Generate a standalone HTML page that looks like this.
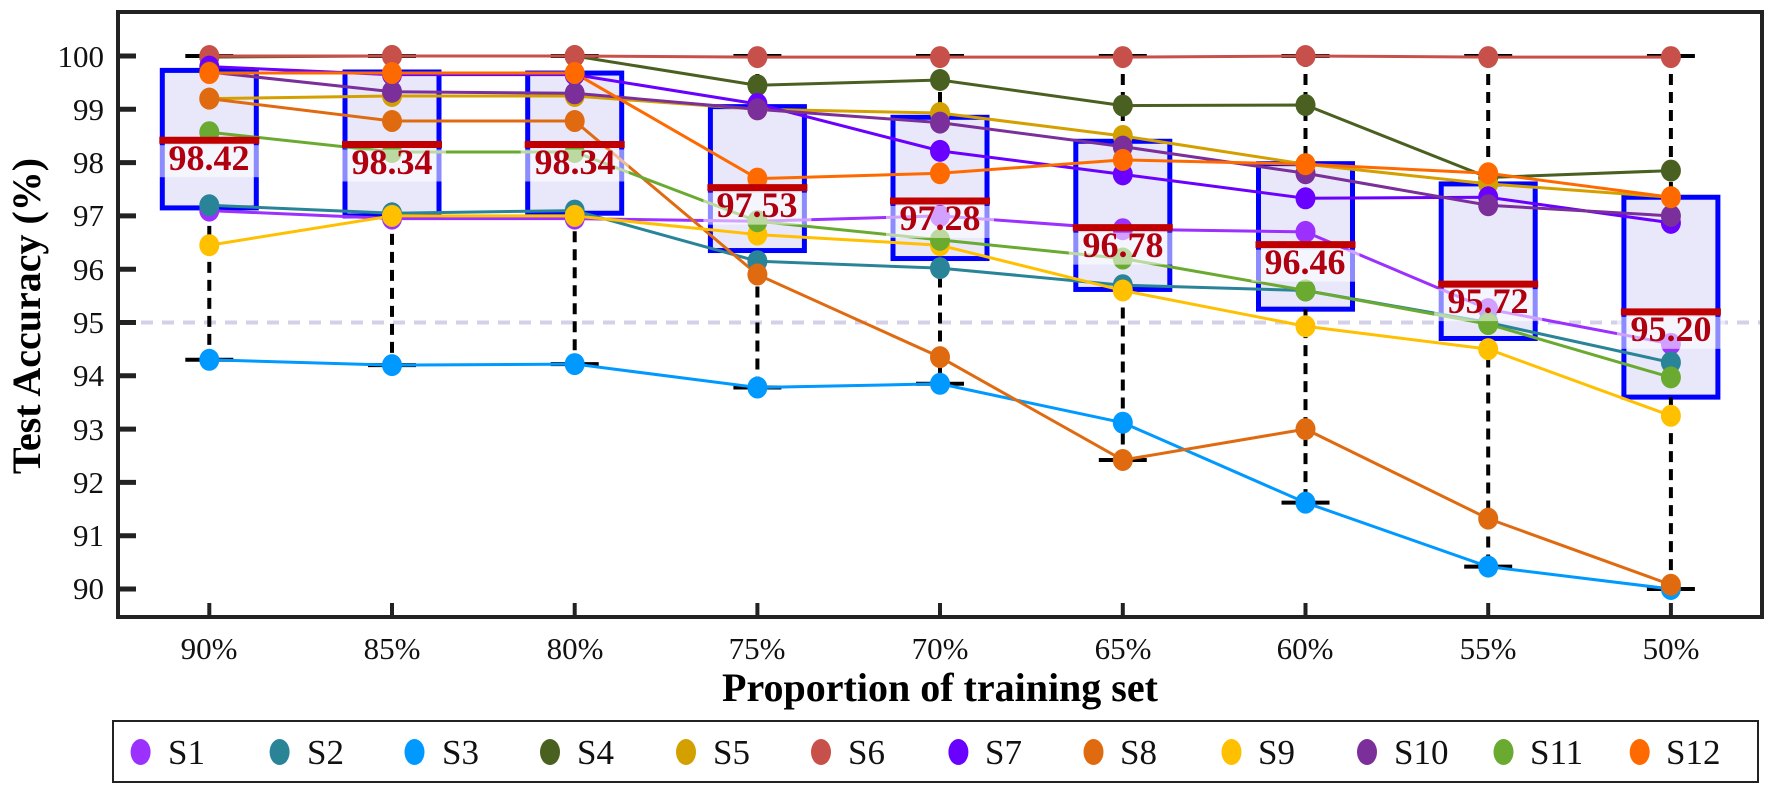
<!DOCTYPE html>
<html><head><meta charset="utf-8"><style>
html,body{margin:0;padding:0;background:#fff;}
svg{display:block;}
.tk{font-family:"Liberation Serif",serif;font-size:31px;fill:#111;}
.lg{font-family:"Liberation Serif",serif;font-size:35px;fill:#111;}
.ml{font-family:"Liberation Serif",serif;font-size:36px;font-weight:bold;fill:#b00010;}
.tt{font-family:"Liberation Serif",serif;font-size:40px;font-weight:bold;fill:#000;}
</style></head><body>
<svg id="s" width="1772" height="791" viewBox="0 0 1772 791" xmlns="http://www.w3.org/2000/svg">
<g id="under"></g>
<g id="over"></g>
<rect x="118" y="12" width="1644" height="605" fill="none" stroke="#222" stroke-width="4"/>
<g id="ticks"></g>
<g class="tk" text-anchor="end">
<text x="104" y="67">100</text><text x="104" y="120">99</text><text x="104" y="173">98</text>
<text x="104" y="226">97</text><text x="104" y="280">96</text><text x="104" y="333">95</text>
<text x="104" y="386">94</text><text x="104" y="440">93</text><text x="104" y="493">92</text>
<text x="104" y="546">91</text><text x="104" y="599">90</text>
</g>
<g class="tk" text-anchor="middle">
<text x="209" y="659">90%</text><text x="392" y="659">85%</text><text x="575" y="659">80%</text>
<text x="757" y="659">75%</text><text x="940" y="659">70%</text><text x="1123" y="659">65%</text>
<text x="1305" y="659">60%</text><text x="1488" y="659">55%</text><text x="1671" y="659">50%</text>
</g>
<text class="tt" x="940" y="701" text-anchor="middle">Proportion of training set</text>
<text class="tt" transform="translate(40,316) rotate(-90)" text-anchor="middle">Test Accuracy (%)</text>
<rect x="113" y="721" width="1645" height="61" fill="#fff" stroke="#222" stroke-width="2"/>
<g id="leg"></g>
<g class="lg">
<text x="168" y="764">S1</text><text x="307" y="764">S2</text><text x="442" y="764">S3</text>
<text x="577" y="764">S4</text><text x="713" y="764">S5</text><text x="848" y="764">S6</text>
<text x="985" y="764">S7</text><text x="1120" y="764">S8</text><text x="1258" y="764">S9</text>
<text x="1394" y="764">S10</text><text x="1530" y="764">S11</text><text x="1666" y="764">S12</text>
</g>
<g id="labs"></g>
<g class="ml" text-anchor="middle">
<text x="209" y="170">98.42</text><text x="392" y="174">98.34</text><text x="575" y="174">98.34</text>
<text x="757" y="217">97.53</text><text x="940" y="230">97.28</text><text x="1123" y="257">96.78</text>
<text x="1305" y="274">96.46</text><text x="1488" y="313">95.72</text><text x="1671" y="341">95.20</text>
</g>
</svg>
<script>
const NS="http://www.w3.org/2000/svg";
function Y(v){return 56+(100-v)*53.3;}
const X=[209.3,392,574.7,757.4,940,1122.8,1305.5,1488.2,1670.9];
function el(p,t,a){const e=document.createElementNS(NS,t);for(const k in a)e.setAttribute(k,a[k]);p.appendChild(e);return e;}
const U=document.getElementById('under'),O=document.getElementById('over'),T=document.getElementById('ticks'),L=document.getElementById('leg'),LB=document.getElementById('labs');
for(let v=90;v<=100;v++)el(T,'line',{x1:118,x2:136,y1:Y(v),y2:Y(v),stroke:'#222','stroke-width':5});
X.forEach(x=>el(T,'line',{x1:x,x2:x,y1:617,y2:603,stroke:'#222','stroke-width':4}));
el(U,'line',{x1:120,x2:1760,y1:Y(95),y2:Y(95),stroke:'#d4d0e8','stroke-width':4,'stroke-dasharray':'12 9'});
const box=[[94.3,97.15,98.42,99.73,100],[94.2,97.0,98.34,99.7,100],[94.22,97.05,98.34,99.68,100],
[93.78,96.35,97.53,99.05,100],[93.85,96.2,97.28,98.85,100],[92.42,95.62,96.78,98.4,100],
[91.62,95.25,96.46,97.98,100],[90.42,94.7,95.72,97.6,100],[90.0,93.6,95.2,97.35,100]];
box.forEach((b,i)=>{const x=X[i];
 el(U,'rect',{x:x-47,y:Y(b[3]),width:94,height:Y(b[1])-Y(b[3]),fill:'#e8e8fa',stroke:'#0000ff','stroke-width':5});
 el(U,'line',{x1:x,x2:x,y1:Y(b[1]),y2:Y(b[0]),stroke:'#000','stroke-width':4,'stroke-dasharray':'11 7'});
 el(U,'line',{x1:x,x2:x,y1:Y(b[4]),y2:Y(b[3]),stroke:'#000','stroke-width':4,'stroke-dasharray':'11 7'});
 el(U,'line',{x1:x-24,x2:x+24,y1:Y(b[0]),y2:Y(b[0]),stroke:'#000','stroke-width':4});
 el(U,'line',{x1:x-24,x2:x+24,y1:Y(b[4]),y2:Y(b[4]),stroke:'#000','stroke-width':4});
});
const S=[
['#9b30ff',[97.1,96.95,96.95,96.9,97.0,96.75,96.7,95.25,94.6]],
['#2a8497',[97.2,97.05,97.1,96.15,96.02,95.7,95.6,95.0,94.25]],
['#0099ff',[94.3,94.2,94.22,93.78,93.85,93.12,91.62,90.42,90.0]],
['#4a6020',[99.98,100,100,99.45,99.55,99.07,99.08,97.72,97.85]],
['#d4a000',[99.2,99.25,99.25,99.0,98.93,98.5,97.97,97.6,97.35]],
['#c8504a',[100,100,100,99.98,99.98,99.98,100,99.98,99.98]],
['#6a00ff',[99.8,99.65,99.65,99.1,98.22,97.78,97.33,97.35,96.87]],
['#e06a10',[99.2,98.78,98.78,95.9,94.35,92.42,93.0,91.32,90.08]],
['#ffc000',[96.45,97.0,97.0,96.65,96.45,95.6,94.93,94.5,93.25]],
['#7a2f9a',[99.7,99.33,99.3,99.0,98.75,98.3,97.8,97.2,97.0]],
['#6aaa30',[98.57,98.2,98.2,96.9,96.55,96.2,95.6,94.97,93.97]],
['#ff6a00',[99.68,99.68,99.68,97.7,97.8,98.05,97.97,97.8,97.35]]];
S.forEach(([c,v])=>{el(O,'polyline',{points:v.map((d,i)=>X[i]+','+Y(d)).join(' '),fill:'none',stroke:c,'stroke-width':3});});
S.forEach(([c,v])=>{v.forEach((d,i)=>el(O,'ellipse',{cx:X[i],cy:Y(d),rx:10,ry:11,fill:c}));});
box.forEach((b,i)=>{const x=X[i],y=Y(b[2]);
 el(O,'line',{x1:x-50,x2:x+50,y1:y,y2:y,stroke:'#c00000','stroke-width':7});
 el(LB,'rect',{x:x-54,y:y+5,width:108,height:32,fill:'#fff','fill-opacity':0.55});
});
const lx=[140.6,279.6,414.5,550,686,821,958.4,1093.5,1231.5,1367,1503.5,1639.7];
S.forEach(([c],i)=>el(L,'ellipse',{cx:lx[i],cy:752,rx:10,ry:13,fill:c}));
</script>
</body></html>
